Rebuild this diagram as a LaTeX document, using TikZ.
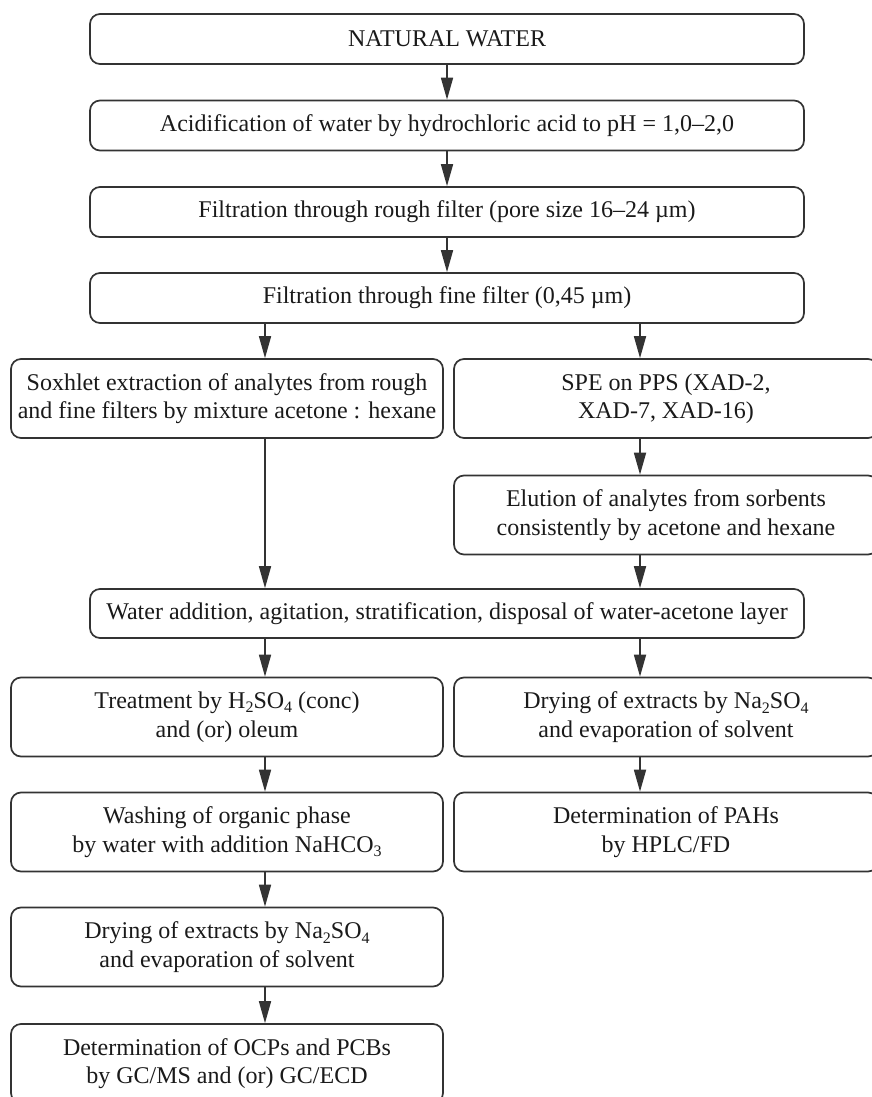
\documentclass[tikz,border=0pt]{standalone}
\usepackage{fontspec}
\setmainfont{Liberation Serif}
\usetikzlibrary{arrows.meta}
\definecolor{linec}{HTML}{333333}
\definecolor{textc}{HTML}{1A1A1A}
\newcommand{\chemsub}[1]{\raisebox{-0.4ex}{\fontsize{16}{16}\selectfont #1}}
\begin{document}
\begin{tikzpicture}[x=1pt,y=-1pt,
 box/.style={draw=linec, line width=1.7pt, rounded corners=10pt, align=center, inner sep=0pt, text=textc, font=\fontsize{24}{28.5}\selectfont},
 wide/.style={box, minimum width=714pt, minimum height=50pt},
 col/.style={box, minimum width=432pt, minimum height=79pt},
 colr/.style={box, minimum width=424pt, minimum height=79pt},
 arr/.style={draw=linec, line width=1.7pt, -{Triangle[length=22pt,width=12pt]}}]
\useasboundingbox (0,0) rectangle (872,1097);
\clip (0,0) rectangle (872,1097);
\fill[white] (0,0) rectangle (872,1097);

\coordinate (xM) at (447,0);
\coordinate (xL) at (265,0);
\coordinate (xR) at (640,0);

\node[wide] (b1) at (447,39) {NATURAL WATER};
\node[wide] (b2) at (447,125.5) {Acidification of water by hydrochloric acid to pH = 1,0–2,0};
\node[wide] (b3) at (447,212) {Filtration through rough filter (pore size 16–24 µm)};
\node[wide] (b4) at (447,298) {Filtration through fine filter (0,45 µm)};

\node[col] (sox) at (227,398.5) {Soxhlet extraction of analytes from rough\\and fine filters by mixture acetone : hexane};
\node[colr] (spe) at (666,398.5) {SPE on PPS (XAD-2,\\XAD-7, XAD-16)};
\node[colr] (elu) at (666,515) {Elution of analytes from sorbents\\consistently by acetone and hexane};

\node[wide, minimum height=49pt] (wat) at (447,613.5) {Water addition, agitation, stratification, disposal of water-acetone layer};

\node[col] (trt) at (227,717) {Treatment by H\chemsub{2}SO\chemsub{4} (conc)\\and (or) oleum};
\node[colr] (dryr) at (666,717) {Drying of extracts by Na\chemsub{2}SO\chemsub{4}\\and evaporation of solvent};
\node[col] (wash) at (227,832) {Washing of organic phase\\by water with addition NaHCO\chemsub{3}};
\node[colr] (pah) at (666,832) {Determination of PAHs\\by HPLC/FD};
\node[col] (dryl) at (227,947) {Drying of extracts by Na\chemsub{2}SO\chemsub{4}\\and evaporation of solvent};
\node[col] (det) at (227,1063.5) {Determination of OCPs and PCBs\\by GC/MS and (or) GC/ECD};

\draw[arr] (b1.south -| xM) -- (b2.north -| xM);
\draw[arr] (b2.south -| xM) -- (b3.north -| xM);
\draw[arr] (b3.south -| xM) -- (b4.north -| xM);
\draw[arr] (b4.south -| xL) -- (sox.north -| xL);
\draw[arr] (b4.south -| xR) -- (spe.north -| xR);
\draw[arr] (sox.south -| xL) -- (wat.north -| xL);
\draw[arr] (spe.south -| xR) -- (elu.north -| xR);
\draw[arr] (elu.south -| xR) -- (wat.north -| xR);
\draw[arr] (wat.south -| xL) -- (trt.north -| xL);
\draw[arr] (wat.south -| xR) -- (dryr.north -| xR);
\draw[arr] (trt.south -| xL) -- (wash.north -| xL);
\draw[arr] (dryr.south -| xR) -- (pah.north -| xR);
\draw[arr] (wash.south -| xL) -- (dryl.north -| xL);
\draw[arr] (dryl.south -| xL) -- (det.north -| xL);
\end{tikzpicture}
\end{document}
